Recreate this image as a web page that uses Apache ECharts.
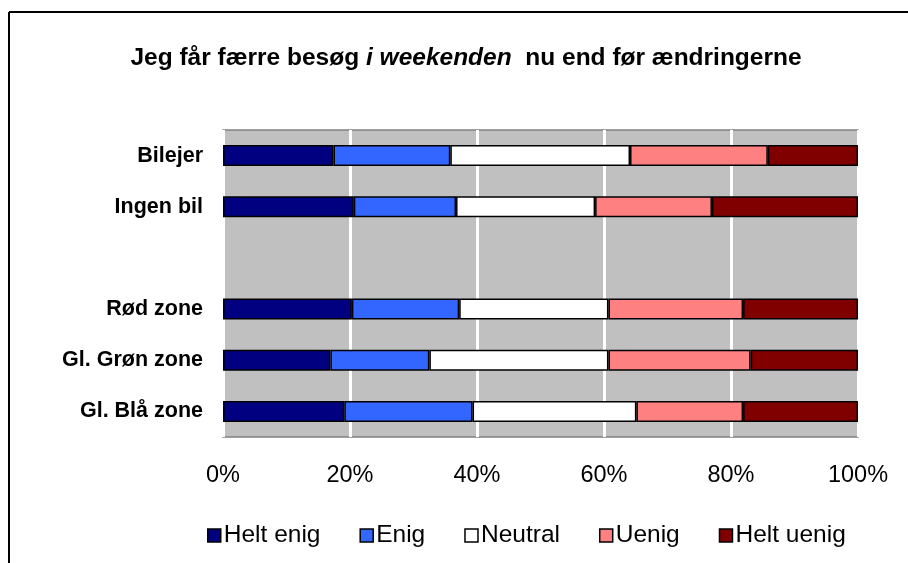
<!DOCTYPE html>
<html>
<head>
<meta charset="utf-8">
<title>ECharts</title>
<script src="https://cdn.jsdelivr.net/npm/echarts@6/dist/echarts.min.js"></script>
</head>
<body style="margin:0;background:#fff">
<div id="main" style="width:908px;height:563px;"></div>
<script type="text/javascript">
// kategorier (tom række mellem bil-grupper og zoner)
var categories = ['Bilejer', 'Ingen bil', '', 'Rød zone', 'Gl. Grøn zone', 'Gl. Blå zone'];
var seriesNames = ['Helt enig', 'Enig', 'Neutral', 'Uenig', 'Helt uenig'];
var colors = ['#000080', '#3366ff', '#ffffff', '#ff8080', '#800000'];
var xTicks = ['0%', '20%', '40%', '60%', '80%', '100%'];

var heltEnig  = [17.4, 20.6, null, 20.3, 16.9, 19.1];
var enig      = [18.4, 16.1, null, 16.9, 15.6, 20.2];
var neutral   = [28.3, 21.9, null, 23.5, 28.2, 25.8];
var uenig     = [21.7, 18.4, null, 21.2, 22.4, 16.8];
var heltUenig = [14.2, 23.0, null, 18.1, 16.9, 18.1];

var values = [heltEnig, enig, neutral, uenig, heltUenig];
var font = 'Liberation Sans, Arial, sans-serif';

var myChart = echarts.init(document.getElementById('main'));

var series = seriesNames.map(function (name, i) {
    return {
        name: name,
        type: 'bar',
        stack: 'total',
        barWidth: 21,
        itemStyle: {
            color: colors[i],
            borderColor: '#000',
            borderWidth: 1.5
        },
        emphasis: { disabled: true },
        data: values[i]
    };
});

var option = {
    backgroundColor: '#fff',
    animation: false,
    title: {
        text: '{b|Jeg får færre besøg }{bi|i weekenden}{b|  nu end før ændringerne}',
        left: 461,
        textAlign: 'center',
        top: 41,
        textStyle: {
            fontSize: 24.5,
            rich: {
                b: { fontFamily: font, fontSize: 24.5, fontWeight: 'bold', color: '#000' },
                bi: { fontFamily: font, fontSize: 24.5, fontWeight: 'bold', fontStyle: 'italic', color: '#000' }
            }
        }
    },
    legend: {
        top: 523,
        left: 207,
        padding: 0,
        itemWidth: 13,
        itemHeight: 13,
        itemGap: 39,
        icon: 'rect',
        data: seriesNames.map(function (n) {
            return { name: n, itemStyle: { borderColor: '#000', borderWidth: 1.5 } };
        }),
        textStyle: { fontFamily: font, fontSize: 24.5, color: '#000', padding: [0, 0, 0, -2] }
    },
    grid: {
        left: 223,
        right: 50,
        top: 130,
        bottom: 126,
        show: true,
        backgroundColor: '#c0c0c0',
        borderColor: '#808080',
        borderWidth: 1.5
    },
    xAxis: {
        type: 'value',
        min: 0,
        max: 100,
        interval: 20,
        axisLine: { show: false },
        axisTick: { show: false },
        splitLine: { lineStyle: { color: '#ffffff', width: 3 } },
        axisLabel: {
            margin: 27,
            fontFamily: font,
            fontSize: 23.5,
            color: '#000',
            formatter: function (v) { return xTicks[v / 20]; }
        }
    },
    yAxis: {
        type: 'category',
        inverse: true,
        data: categories,
        axisLine: { show: false },
        axisTick: { show: false },
        axisLabel: {
            margin: 20,
            fontFamily: font,
            fontSize: 21.5,
            fontWeight: 'bold',
            color: '#000'
        }
    },
    graphic: [
        { type: 'line', shape: { x1: 9, y1: 12, x2: 908, y2: 12 }, style: { stroke: '#000', lineWidth: 2 } },
        { type: 'line', shape: { x1: 9, y1: 12, x2: 9, y2: 563 }, style: { stroke: '#000', lineWidth: 2 } }
    ],
    series: series
};

myChart.setOption(option);
</script>
</body>
</html>
